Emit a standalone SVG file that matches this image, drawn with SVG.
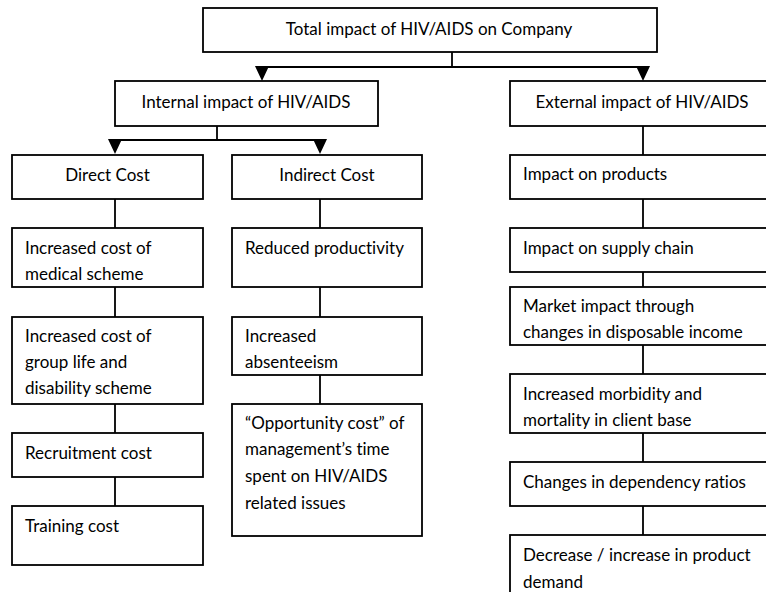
<svg xmlns="http://www.w3.org/2000/svg" width="766" height="592" viewBox="0 0 766 592">
<style>
.b{fill:#fff;stroke:#000;stroke-width:1.8}
.c{fill:none;stroke:#000;stroke-width:1.8}
.a{fill:#000;stroke:none}
text{font-family:Lato,"Liberation Sans",sans-serif;font-size:17px;fill:#000;font-variant-ligatures:none;font-feature-settings:"liga" 0,"dlig" 0}
.m{text-anchor:middle}
</style>
<rect width="766" height="592" fill="#fff"/>
<g id="connectors">
<path class="c" d="M452 52V67M262 67H643M262 67V70M643 67V70"/>
<polygon class="a" points="255,66 269,66 262,81"/>
<polygon class="a" points="636,66 650,66 643,81"/>
<path class="c" d="M217 126V140M115 140H320"/>
<polygon class="a" points="108,139 122,139 115,154"/>
<polygon class="a" points="313,139 327,139 320,154"/>
<path class="c" d="M115 199V228M115 287V317M115 404V433M115 477V506"/>
<path class="c" d="M320 199V228M320 287V317M320 375V404"/>
<path class="c" d="M643 126V155M643 199V228M643 272V287M643 345V374M643 433V462M643 506V535"/>
</g>
<g id="total"><rect class="b" x="203" y="8" width="454" height="44"/><text class="m" x="429" y="35">Total impact of HIV/AIDS on Company</text></g>
<g id="internal"><rect class="b" x="115" y="81" width="263" height="45"/><text class="m" x="246" y="108">Internal impact of HIV/AIDS</text></g>
<g id="external"><rect class="b" x="510" y="81" width="270" height="45"/><text class="m" x="642" y="108">External impact of HIV/AIDS</text></g>
<g id="direct"><rect class="b" x="12" y="155" width="191" height="44"/><text class="m" x="107.5" y="181">Direct Cost</text></g>
<g id="indirect"><rect class="b" x="232" y="155" width="190" height="44"/><text class="m" x="327" y="181">Indirect Cost</text></g>
<g id="medical"><rect class="b" x="12" y="228" width="191" height="59"/><text x="25" y="254">Increased cost of</text><text x="25" y="280">medical scheme</text></g>
<g id="grouplife"><rect class="b" x="12" y="317" width="191" height="87"/><text x="25" y="342">Increased cost of</text><text x="25" y="368">group life and</text><text x="25" y="394">disability scheme</text></g>
<g id="recruitment"><rect class="b" x="12" y="433" width="191" height="44"/><text x="25" y="459">Recruitment cost</text></g>
<g id="training"><rect class="b" x="12" y="506" width="191" height="59"/><text x="25" y="532">Training cost</text></g>
<g id="productivity"><rect class="b" x="232" y="228" width="190" height="59"/><text x="245" y="254">Reduced productivity</text></g>
<g id="absenteeism"><rect class="b" x="232" y="317" width="190" height="58"/><text x="245" y="342">Increased</text><text x="245" y="368">absenteeism</text></g>
<g id="opportunity"><rect class="b" x="232" y="404" width="190" height="132"/><text x="245" y="429">“Opportunity cost” of</text><text x="245" y="455">management’s time</text><text x="245" y="482">spent on HIV/AIDS</text><text x="245" y="509">related issues</text></g>
<g id="products"><rect class="b" x="510" y="155" width="270" height="44"/><text x="523" y="180">Impact on products</text></g>
<g id="supply"><rect class="b" x="510" y="228" width="270" height="44"/><text x="523" y="254">Impact on supply chain</text></g>
<g id="market"><rect class="b" x="510" y="287" width="270" height="58"/><text x="523" y="312">Market impact through</text><text x="523" y="338">changes in disposable income</text></g>
<g id="morbidity"><rect class="b" x="510" y="374" width="270" height="59"/><text x="523" y="400">Increased morbidity and</text><text x="523" y="426">mortality in client base</text></g>
<g id="dependency"><rect class="b" x="510" y="462" width="270" height="44"/><text x="523" y="488">Changes in dependency ratios</text></g>
<g id="demand"><rect class="b" x="510" y="535" width="270" height="70"/><text x="523" y="561">Decrease / increase in product</text><text x="523" y="588">demand</text></g>
</svg>
